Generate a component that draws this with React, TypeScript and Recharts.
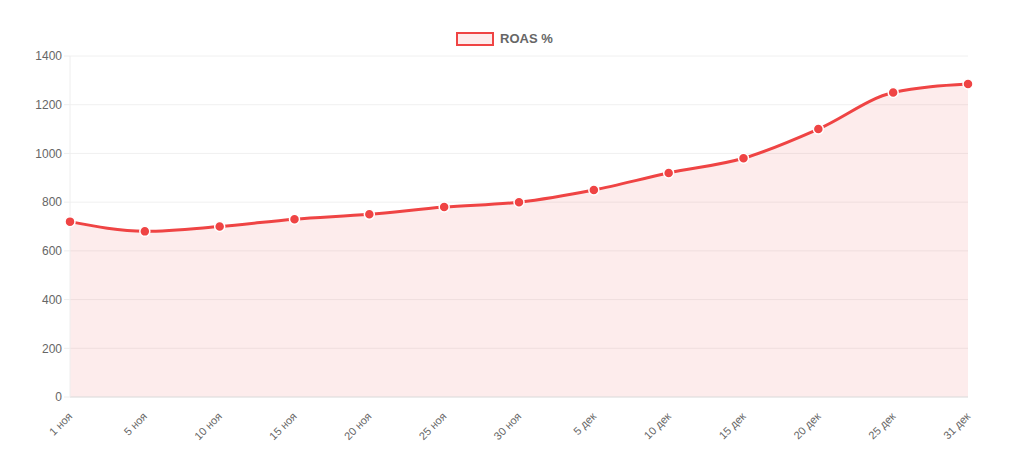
import { AreaChart, Area, XAxis, YAxis, CartesianGrid } from "recharts";

const dates = [
  "1 ноя", "5 ноя", "10 ноя", "15 ноя", "20 ноя", "25 ноя", "30 ноя",
  "5 дек", "10 дек", "15 дек", "20 дек", "25 дек", "31 дек",
];
const roas = [720, 680, 700, 730, 750, 780, 800, 850, 920, 980, 1100, 1250, 1285];
const yTicks = [0, 200, 400, 600, 800, 1000, 1200, 1400];

const RED = "#ef4444";
const FONT = "Helvetica, Arial, 'Liberation Sans', sans-serif";

const data = dates.map((date, i) => ({ date, roas: roas[i] }));

function AngledTick({ x, y, payload }: any) {
  const ty = y + 12;
  return (
    <text
      x={x + 3}
      y={ty}
      textAnchor="end"
      transform={`rotate(-45, ${x + 3}, ${ty})`}
      fill="#666"
      fontSize={11}
      fontFamily={FONT}
    >
      {payload.value}
    </text>
  );
}

export default function App() {
  return (
    <div style={{ position: "absolute", left: 0, top: 0, width: 1024, height: 466, background: "#fff" }}>
      <div
        style={{
          position: "absolute",
          top: 31,
          left: 456,
          display: "flex",
          alignItems: "center",
          fontFamily: FONT,
          fontSize: 13,
          fontWeight: 700,
          color: "#666",
        }}
      >
        <span
          style={{
            display: "inline-block",
            width: 34,
            height: 10,
            border: `2px solid ${RED}`,
            background: "rgba(239,68,68,0.1)",
            marginRight: 6,
          }}
        />
        ROAS %
      </div>
      <AreaChart width={1024} height={466} data={data} margin={{ top: 56, right: 56, left: 0, bottom: 0 }}>
        <CartesianGrid stroke="#f0f0f0" vertical={false} />
        <XAxis
          dataKey="date"
          height={69}
          interval={0}
          tick={<AngledTick />}
          tickLine={false}
          axisLine={{ stroke: "#e0e0e0" }}
        />
        <YAxis
          width={70}
          domain={[0, 1400]}
          ticks={yTicks}
          tickSize={6}
          tickLine={{ stroke: "#eeeeee" }}
          axisLine={{ stroke: "#eeeeee" }}
          tick={{ fill: "#666", fontSize: 12, fontFamily: FONT }}
          tickMargin={2}
        />
        <Area
          type="monotone"
          dataKey="roas"
          stroke={RED}
          strokeWidth={3}
          fill="rgba(239,68,68,0.1)"
          fillOpacity={1}
          dot={{ r: 5, fill: RED, stroke: "#fff", strokeWidth: 1.5 }}
          activeDot={false}
          isAnimationActive={false}
        />
      </AreaChart>
    </div>
  );
}
